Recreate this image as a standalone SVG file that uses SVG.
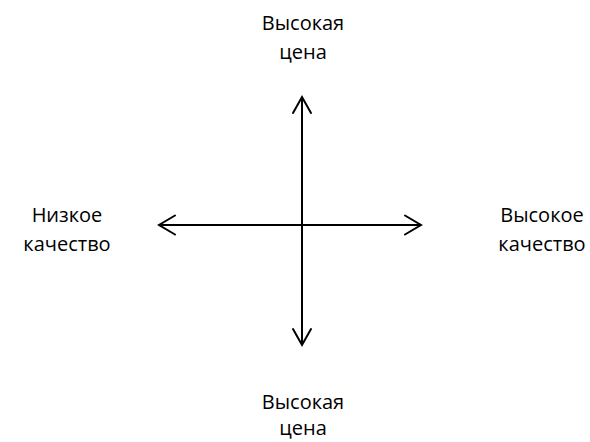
<svg xmlns="http://www.w3.org/2000/svg" width="590" height="442" viewBox="0 0 590 442">
<style>
.t{font-family:"Open Sans","Noto Sans","Liberation Sans",sans-serif;font-size:20px;fill:#000;text-anchor:middle}
.ax{stroke:#000;stroke-width:2;fill:none}
.ah{stroke:#000;stroke-width:2;fill:none;stroke-linecap:round;stroke-linejoin:miter}
</style>
<rect width="590" height="442" fill="#fff"/>
<g id="connectors">
<line class="ax" x1="302" y1="97" x2="302" y2="345"/>
<line class="ax" x1="159" y1="225" x2="421" y2="225"/>
<polyline class="ah" points="293,113 302,97 311,113"/>
<polyline class="ah" points="293,329 302,345 311,329"/>
<polyline class="ah" points="175,215.5 159,225 175,234.5"/>
<polyline class="ah" points="405,215.5 421,225 405,234.5"/>
</g>
<g id="top"><text class="t" x="303" y="30">Высокая</text><text class="t" x="303" y="59">цена</text></g>
<g id="left"><text class="t" x="67" y="222">Низкое</text><text class="t" x="67" y="251">качество</text></g>
<g id="right"><text class="t" x="542" y="222">Высокое</text><text class="t" x="542" y="251">качество</text></g>
<g id="bottom"><text class="t" x="303" y="409">Высокая</text><text class="t" x="303" y="435">цена</text></g>
</svg>
